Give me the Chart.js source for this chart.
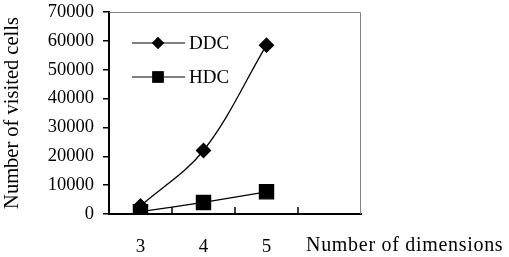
<!DOCTYPE html>
<html><head><meta charset="utf-8">
<script src="https://cdn.jsdelivr.net/npm/chart.js@4"></script>
<style>html,body{margin:0;padding:0;background:#fff;}#wrap{width:509px;height:257px;}</style>
</head><body><div id="wrap"><canvas id="c" width="509" height="257"></canvas></div>
<script>
const categories = ['3', '4', '5', ''];
const ddcValues = [2800, 22000, 58500, null];
const hdcValues = [800, 4000, 7700, null];
const yTicks = [0, 10000, 20000, 30000, 40000, 50000, 60000, 70000];
const seriesNames = ['DDC', 'HDC'];
const xTitle = 'Number of dimensions';
const yTitle = 'Number of visited cells';

const FONT = '"Liberation Serif", "Times New Roman", serif';

const decor = {
  id: 'decor',
  afterDraw(chart) {
    const ctx = chart.ctx, a = chart.chartArea;
    const xs = chart.scales.x;
    ctx.save();
    ctx.strokeStyle = '#808080'; ctx.lineWidth = 1;
    ctx.beginPath();
    ctx.moveTo(a.left, a.top + 0.5); ctx.lineTo(a.right - 0.5, a.top + 0.5); ctx.lineTo(a.right - 0.5, a.bottom);
    ctx.stroke();
    ctx.strokeStyle = '#000'; ctx.lineWidth = 1.5;
    ctx.beginPath();
    const n = categories.length;
    const step = xs.getPixelForValue(1) - xs.getPixelForValue(0);
    for (let i = 0; i < n - 1; i++) {
      const px = Math.round(xs.getPixelForValue(i) + step / 2);
      ctx.moveTo(px, a.bottom); ctx.lineTo(px, a.bottom - 7);
    }
    ctx.stroke();
    ctx.fillStyle = '#000';
    ctx.font = '20px ' + FONT;
    ctx.textBaseline = 'middle'; ctx.textAlign = 'left';
    ctx.letterSpacing = '0.7px';
    ctx.fillText(xTitle, 306, 246);
    ctx.letterSpacing = '0px';
    const ly = [43, 77];
    chart.data.datasets.forEach((ds, i) => {
      ctx.strokeStyle = '#000'; ctx.lineWidth = 1.2;
      ctx.beginPath(); ctx.moveTo(132, ly[i]); ctx.lineTo(185, ly[i]); ctx.stroke();
      Chart.helpers.drawPoint(ctx, {pointStyle: ds.pointStyle, radius: i === 0 ? 6 : 8, borderWidth: 0, rotation: 0}, 158, ly[i]);
      ctx.fillStyle = '#000';
      ctx.fill();
      ctx.font = '19px ' + FONT;
      ctx.fillText(ds.label, 189, ly[i] + 1);
    });
    ctx.restore();
  }
};

new Chart(document.getElementById('c'), {
  type: 'line',
  data: {
    labels: categories,
    datasets: [
      { label: seriesNames[0], data: ddcValues, borderColor: '#000', backgroundColor: '#000', borderWidth: 1.3,
        pointStyle: 'rectRot', pointRadius: 7, pointBackgroundColor: '#000', pointBorderColor: '#000', tension: 0.35 },
      { label: seriesNames[1], data: hdcValues, borderColor: '#000', backgroundColor: '#000', borderWidth: 1.3,
        pointStyle: 'rect', pointRadius: 10, pointBackgroundColor: '#000', pointBorderColor: '#000', tension: 0.2 }
    ]
  },
  options: {
    responsive: false, animation: false,
    layout: { padding: { left: 0, right: 148, top: 12, bottom: 0 } },
    plugins: { legend: { display: false }, tooltip: { enabled: false } },
    scales: {
      x: {
        type: 'category', offset: true,
        grid: { display: false, drawTicks: false },
        border: { display: true, color: '#000', width: 2 },
        ticks: { color: '#000', font: { family: FONT, size: 19 }, padding: 22, maxRotation: 0 },
        afterFit(s) { s.height = 43; s.paddingLeft = 0; s.paddingRight = 0; }
      },
      y: {
        min: 0, max: 70000,
        afterBuildTicks(s) { s.ticks = yTicks.map(v => ({ value: v })); },
        grid: { drawOnChartArea: false, drawTicks: true, tickLength: 6, color: '#000', lineWidth: 1.5 },
        border: { display: true, color: '#000', width: 2 },
        ticks: { color: '#000', font: { family: FONT, size: 18.5 }, padding: 9, callback: v => String(v) },
        title: { display: true, text: yTitle, color: '#000', font: { family: FONT, size: 20.5 }, padding: { top: 0, bottom: 2 } },
        afterFit(s) { s.width = 109; s.paddingTop = 0; s.paddingBottom = 0; }
      }
    }
  },
  plugins: [decor]
});
</script></body></html>
